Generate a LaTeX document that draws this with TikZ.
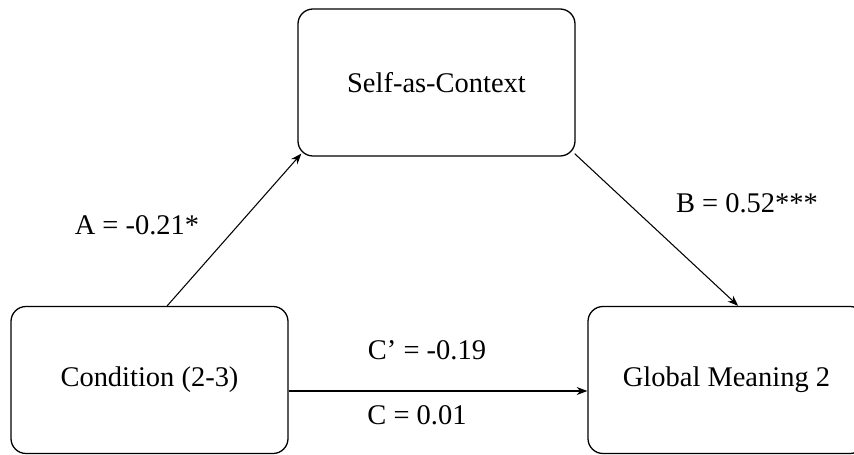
\documentclass[tikz,border=0pt]{standalone}
\usepackage{fontspec}
\setmainfont{Liberation Serif}
\usetikzlibrary{arrows.meta}

\begin{document}
\begin{tikzpicture}[x=0.03cm,y=-0.03cm,line width=0.9pt,>=Stealth,
  var/.style={draw,line width=1.1pt,rounded corners=0.45cm,
    minimum width=8.31cm,minimum height=4.41cm,
    font=\fontsize{24.3}{29}\selectfont},
  lbl/.style={font=\fontsize{24.3}{29}\selectfont},
  path/.style={->,line width=0.9pt,>={Stealth[length=3.2mm,width=2.4mm]}}]
\useasboundingbox (0,0) rectangle (854,455);
% ================= variables =================
\node[var] (self) at (436.5,82.5) {Self-as-Context};
\node[var] (cond) at (149.5,380) {Condition (2-3)};
\node[var] (glob) at (726.5,380) {Global Meaning 2};
% ================= paths =================
\draw[path] ([xshift=0.53cm]cond.north) -- ([shift={(0.12cm,0.09cm)}]self.south west);
\draw[path] ([shift={(-0.03cm,0.09cm)}]self.south east) -- ([xshift=0.35cm]glob.north);
\draw[path] ([yshift=-0.33cm]cond.east) -- ([yshift=-0.33cm]glob.west);
% coefficients
\node[lbl] (la) at (137,225) {A = -0.21*};
\node[lbl] (lb) at (747,203) {B = 0.52***};
\node[lbl] (lcp) at (427,350) {C’ = -0.19};
\node[lbl] (lc) at (417,415) {C = 0.01};
\end{tikzpicture}
\end{document}
